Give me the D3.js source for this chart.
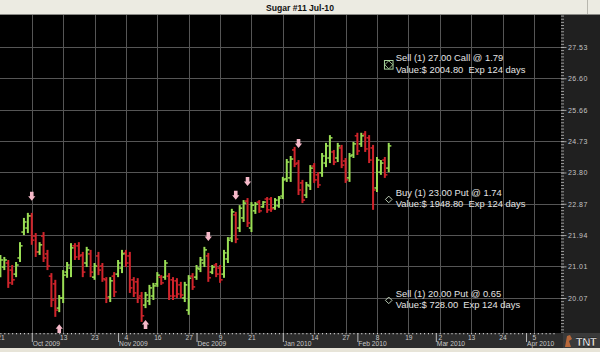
<!DOCTYPE html>
<html><head><meta charset="utf-8">
<script src="https://cdn.jsdelivr.net/npm/d3@7"></script>
<style>html,body{margin:0;padding:0;background:#000;overflow:hidden}svg{display:block}</style>
</head><body>
<svg id="chart" width="600" height="352"></svg>
<script>
const title = "Sugar #11 Jul-10";
// daily OHLC, trading-day index 0 = 21 Sep 2009
const opens = [20.84,20.99,21.11,20.90,20.78,21.26,22.03,22.15,22.51,21.91,
 21.44,21.91,21.38,20.72,20.49,19.77,20.07,20.84,20.96,21.62,
 21.62,21.35,21.11,21.38,20.69,21.32,21.02,20.61,20.10,20.72,
 20.78,20.96,21.41,21.32,20.61,20.55,20.13,19.86,19.98,20.13,
 20.49,20.69,20.69,20.72,20.61,20.58,20.46,20.07,19.71,20.72,
 20.69,20.93,21.11,21.32,20.84,21.05,20.96,20.78,21.23,21.85,
 22.54,22.15,22.45,22.95,22.15,22.66,22.92,22.78,23.01,23.01,
 22.75,22.81,23.10,23.61,23.64,24.47,24.08,23.49,23.13,23.40,
 23.99,23.73,23.79,24.08,24.23,24.41,24.23,24.53,24.14,23.64,
 24.32,24.89,24.65,24.94,24.83,24.53,23.34,23.81,24.17,23.93];
const highs = [21.35,21.29,21.20,21.05,21.14,21.73,22.45,22.60,22.60,22.00,
 21.73,22.03,21.50,20.81,20.61,20.16,20.90,21.14,21.70,21.70,
 21.73,21.44,21.59,21.50,21.11,21.44,21.11,20.69,20.69,20.84,
 21.20,21.50,21.50,21.44,20.69,20.66,20.25,20.25,20.46,20.52,
 20.84,20.75,21.20,20.81,20.69,20.66,20.55,20.55,20.75,20.81,
 21.05,21.29,21.59,21.41,21.05,21.11,21.05,21.50,21.88,22.72,
 22.63,22.83,22.98,23.04,22.92,22.92,22.98,22.95,23.07,23.07,
 23.04,23.10,23.67,24.20,24.29,24.56,24.17,23.58,23.52,24.02,
 24.08,23.81,24.38,24.68,24.91,24.47,24.68,24.62,24.23,24.38,
 24.71,24.98,24.98,25.03,24.91,24.62,24.26,24.17,24.26,24.68];
const lows = [20.69,20.90,20.37,20.46,20.69,21.14,21.94,22.00,21.65,21.29,
 21.35,21.14,20.90,19.80,19.51,19.65,19.92,20.67,20.69,21.20,
 21.20,20.69,20.99,20.69,20.61,20.75,20.55,19.92,19.95,20.10,
 20.69,20.81,20.99,20.22,20.10,19.92,19.36,19.77,19.86,20.01,
 20.40,20.46,20.61,20.01,20.01,20.07,20.07,19.95,19.57,20.31,
 20.61,20.84,20.99,20.55,20.78,20.69,20.52,20.67,21.11,21.73,
 21.70,22.03,22.33,22.18,22.03,22.57,22.60,22.75,22.60,22.63,
 22.69,22.75,23.01,23.52,23.52,23.96,23.13,22.89,23.04,23.28,
 23.49,23.34,23.67,23.96,24.08,24.02,24.11,23.93,23.49,23.52,
 24.23,24.32,24.56,24.41,24.08,22.69,23.22,23.73,23.64,23.81];
const closes = [21.20,21.20,20.52,20.61,21.05,21.62,22.33,22.51,21.79,21.44,
 21.65,21.26,21.02,20.01,19.71,20.07,20.75,21.05,21.56,21.29,
 21.32,20.84,21.50,20.84,21.02,20.90,20.64,20.07,20.58,20.25,
 21.11,21.38,21.11,20.37,20.22,20.07,19.54,20.16,20.37,20.43,
 20.75,20.52,21.11,20.13,20.13,20.19,20.16,20.46,20.66,20.40,
 20.96,21.20,21.50,20.67,20.99,20.78,20.61,21.41,21.79,22.63,
 21.82,22.74,22.89,22.30,22.83,22.86,22.66,22.92,22.69,22.72,
 22.98,23.04,23.58,24.11,24.20,24.05,23.28,22.98,23.43,23.93,
 23.58,23.43,24.29,24.59,24.83,24.11,24.59,24.02,23.58,24.29,
 24.65,24.44,24.89,24.50,24.17,23.28,24.17,24.08,23.73,24.59];

const priceTicks = [27.53, 26.60, 25.66, 24.73, 23.80, 22.87, 21.94, 21.01, 20.07];
const priceDomain = [19.03, 28.48];
const indexDomain = [0, 141];
const gridIdx = [8,16,24,32,40,48,56,64,72,80,88,96,104,112,120,128,136];
const dayTickIdx = [0,16,24,32,40,48,56,64,80,88,96,104,112,120,128,136];
const dayTickLabels = ["21","13","23","4","16","27","9","21","14","27","8","19","2","13","24","5"];
const monthIdx = [8,30,50,72,91,111,134];
const monthLabels = ["Oct 2009","Nov 2009","Dec 2009","Jan 2010","Feb 2010","Mar 2010","Apr 2010"];
const downArrowIdx = [8,53,60,63,76];
const upArrowIdx = [15,37];
const tradeLines1 = ["Sell (1) 27.00 Call @ 1.79","Buy (1) 23.00 Put @ 1.74","Sell (1) 20.00 Put @ 0.65"];
const tradeLines2 = ["Value:$ 2004.80  Exp 124 days","Value:$ 1948.80  Exp 124 days","Value:$ 728.00  Exp 124 days"];
const tradeStrikes = [27.00, 23.00, 20.00];
const tradeMarker = ["box","diamond","diamond"];
const tradeIdx = 99;

const FONT = "'Liberation Sans', Arial, sans-serif";
const PL = 0, PR = 561, PT = 15, PB = 333;
const svg = d3.select("#chart");
const x = d3.scaleLinear().domain(indexDomain).range([0.4, 553.5]);
const y = d3.scaleLinear().domain(priceDomain).range([PB, PT]);

svg.append("rect").attr("width",600).attr("height",352).attr("fill","#000");

// title bar
svg.append("rect").attr("x",0).attr("y",0).attr("width",600).attr("height",15).attr("fill","#ecebe2");
svg.append("line").attr("x1",0).attr("x2",600).attr("y1",14.5).attr("y2",14.5).attr("stroke","#8a8a86");
svg.append("line").attr("x1",587.5).attr("x2",587.5).attr("y1",0).attr("y2",14).attr("stroke","#b8b7ae");
svg.append("text").attr("x",300).attr("y",10.6).attr("text-anchor","middle")
  .attr("font-family",FONT).attr("font-weight","bold").attr("font-size",8.6).attr("fill","#111").text(title);

// clip
svg.append("clipPath").attr("id","pc").append("rect").attr("x",PL).attr("y",PT).attr("width",PR-PL).attr("height",PB-PT);
const plot = svg.append("g").attr("clip-path","url(#pc)");

// grid
plot.append("g").selectAll("line").data(priceTicks).join("line")
  .attr("x1",PL).attr("x2",PR).attr("y1",d=>Math.round(y(d))+0.5).attr("y2",d=>Math.round(y(d))+0.5)
  .attr("stroke","#555").attr("stroke-width",1);
plot.append("g").selectAll("line").data(gridIdx).join("line")
  .attr("y1",PT).attr("y2",PB).attr("x1",d=>Math.round(x(d))+0.5).attr("x2",d=>Math.round(x(d))+0.5)
  .attr("stroke","#555").attr("stroke-width",1);

// OHLC bars
const bars = d3.range(opens.length).map(i=>({i,o:opens[i],h:highs[i],l:lows[i],c:closes[i]}));
const bg = plot.append("g");
const col = d => d.c >= d.o ? "#9ade55" : "#d0242b";
bg.selectAll(".v").data(bars).join("line").attr("class","v")
  .attr("x1",d=>x(d.i)).attr("x2",d=>x(d.i)).attr("y1",d=>y(d.h)).attr("y2",d=>y(d.l))
  .attr("stroke",col).attr("stroke-width",2);
bg.selectAll(".o").data(bars).join("line").attr("class","o")
  .attr("x1",d=>x(d.i)-2.6).attr("x2",d=>x(d.i)).attr("y1",d=>y(d.o)).attr("y2",d=>y(d.o))
  .attr("stroke",col).attr("stroke-width",1.5);
bg.selectAll(".c").data(bars).join("line").attr("class","c")
  .attr("x1",d=>x(d.i)).attr("x2",d=>x(d.i)+2.6).attr("y1",d=>y(d.c)).attr("y2",d=>y(d.c))
  .attr("stroke",col).attr("stroke-width",1.5);

// arrows
const arrowPath = "M-1.8,0 L1.8,0 L1.8,4.5 L3.6,4.5 L0,9 L-3.6,4.5 L-1.8,4.5 Z"; // points down, tip at y=9
plot.append("g").selectAll("path").data(downArrowIdx).join("path")
  .attr("d",arrowPath).attr("fill","#f6b9c9")
  .attr("transform",i=>`translate(${x(i)},${y(highs[i])-12-9})`);
plot.append("g").selectAll("path").data(upArrowIdx).join("path")
  .attr("d",arrowPath).attr("fill","#f6b9c9")
  .attr("transform",i=>`translate(${x(i)},${y(lows[i])+12+9}) scale(1,-1)`);

// trade annotations
const tg = svg.append("g");
tradeStrikes.forEach((s,k)=>{
  const cx = x(tradeIdx), cy = y(s);
  if (tradeMarker[k]==="box") {
    tg.append("rect").attr("x",cx-4.3).attr("y",cy-4.3).attr("width",8.6).attr("height",8.6)
      .attr("fill","none").attr("stroke","#a9d49c").attr("stroke-width",1);
    tg.append("path").attr("d",`M${cx},${cy-4} L${cx+4},${cy} L${cx},${cy+4} L${cx-4},${cy} Z`)
      .attr("fill","none").attr("stroke","#a9d49c").attr("stroke-width",0.9);
  } else {
    tg.append("path").attr("d",`M${cx},${cy-3.3} L${cx+3.3},${cy} L${cx},${cy+3.3} L${cx-3.3},${cy} Z`)
      .attr("fill","none").attr("stroke","#cfe2c8").attr("stroke-width",0.9);
  }
  tg.append("text").attr("x",cx+7).attr("y",cy-3.6).attr("font-family",FONT).attr("font-size",9.4)
    .attr("fill","#e4e4e4").attr("xml:space","preserve").style("white-space","pre").text(tradeLines1[k]);
  tg.append("text").attr("x",cx+7).attr("y",cy+7.9).attr("font-family",FONT).attr("font-size",9.4)
    .attr("fill","#e4e4e4").attr("xml:space","preserve").style("white-space","pre").text(tradeLines2[k]);
});

// right price axis
const ra = svg.append("g").attr("transform",`translate(${PR},0)`);
ra.append("rect").attr("x",0).attr("y",PT).attr("width",600-PR).attr("height",PB-PT).attr("fill","#202020");
const step = (priceTicks[0]-priceTicks[priceTicks.length-1])/((priceTicks.length-1)*10);
const minor = d3.range(-11, 91).map(k=>priceTicks[priceTicks.length-1]+k*step).filter(v=>v>priceDomain[0]&&v<priceDomain[1]);
const minorAxis = ra.append("g").call(d3.axisRight(y).tickValues(minor).tickSize(3).tickFormat(""));
const majorAxis = ra.append("g").call(d3.axisRight(y).tickValues(priceTicks).tickSize(5.5).tickPadding(1.5).tickFormat(d3.format(".2f")));
[minorAxis, majorAxis].forEach(a=>{
  a.select(".domain").remove();
  a.selectAll("line").attr("stroke","#bdbdbd").attr("stroke-width",0.8);
});
majorAxis.selectAll("text").attr("fill","#c4c4c4").attr("font-family",FONT).attr("font-size",7)
  .attr("letter-spacing",0.45);

// bottom axis
const ba = svg.append("g").attr("transform",`translate(0,${PB})`);
ba.append("rect").attr("x",0).attr("y",0).attr("width",563).attr("height",15).attr("fill","#2c2c2c");
const dots = ba.append("g").call(d3.axisBottom(x).tickValues(d3.range(indexDomain[0], indexDomain[1]+1)).tickSize(1.3).tickFormat(""));
dots.select(".domain").remove();
dots.selectAll("line").attr("stroke","#d8d8d8").attr("stroke-width",1);
const days = ba.append("g").call(d3.axisBottom(x).tickValues(dayTickIdx).tickSize(0).tickFormat((d,i)=>dayTickLabels[i]));
days.select(".domain").remove();
days.selectAll("text").attr("y",6.6).attr("dy",0).attr("fill","#c8c8c8").attr("font-family",FONT).attr("font-size",6.6);
const months = ba.append("g").call(d3.axisBottom(x).tickValues(monthIdx).tickSize(9).tickFormat((d,i)=>monthLabels[i]));
months.select(".domain").remove();
months.selectAll("line").attr("stroke","#bbbbbb").attr("stroke-width",1);
months.selectAll("text").attr("y",13.2).attr("dy",0).attr("x",0.5).attr("text-anchor","start")
  .attr("fill","#c8c8c8").attr("font-family",FONT).attr("font-size",6.7);

// bottom strip
svg.append("rect").attr("x",0).attr("y",348).attr("width",600).attr("height",4).attr("fill","#e7e4d8");

// logo
const lg = svg.append("g").attr("transform","translate(563,333)");
lg.append("rect").attr("width",37).attr("height",15).attr("fill","#3a3a3a");
lg.append("path").attr("d","M2,14 L4,3 L7,2 L9,6 L6,8 L8,14 Z").attr("fill","#b8683a");
lg.append("text").attr("x",23).attr("y",12.5).attr("text-anchor","middle").attr("font-family",FONT)
  .attr("font-weight","bold").attr("font-size",11.5).attr("fill","#fff").attr("stroke","#000").attr("stroke-width",0.4)
  .attr("letter-spacing",-0.6).text("TNT");
</script>
</body></html>
